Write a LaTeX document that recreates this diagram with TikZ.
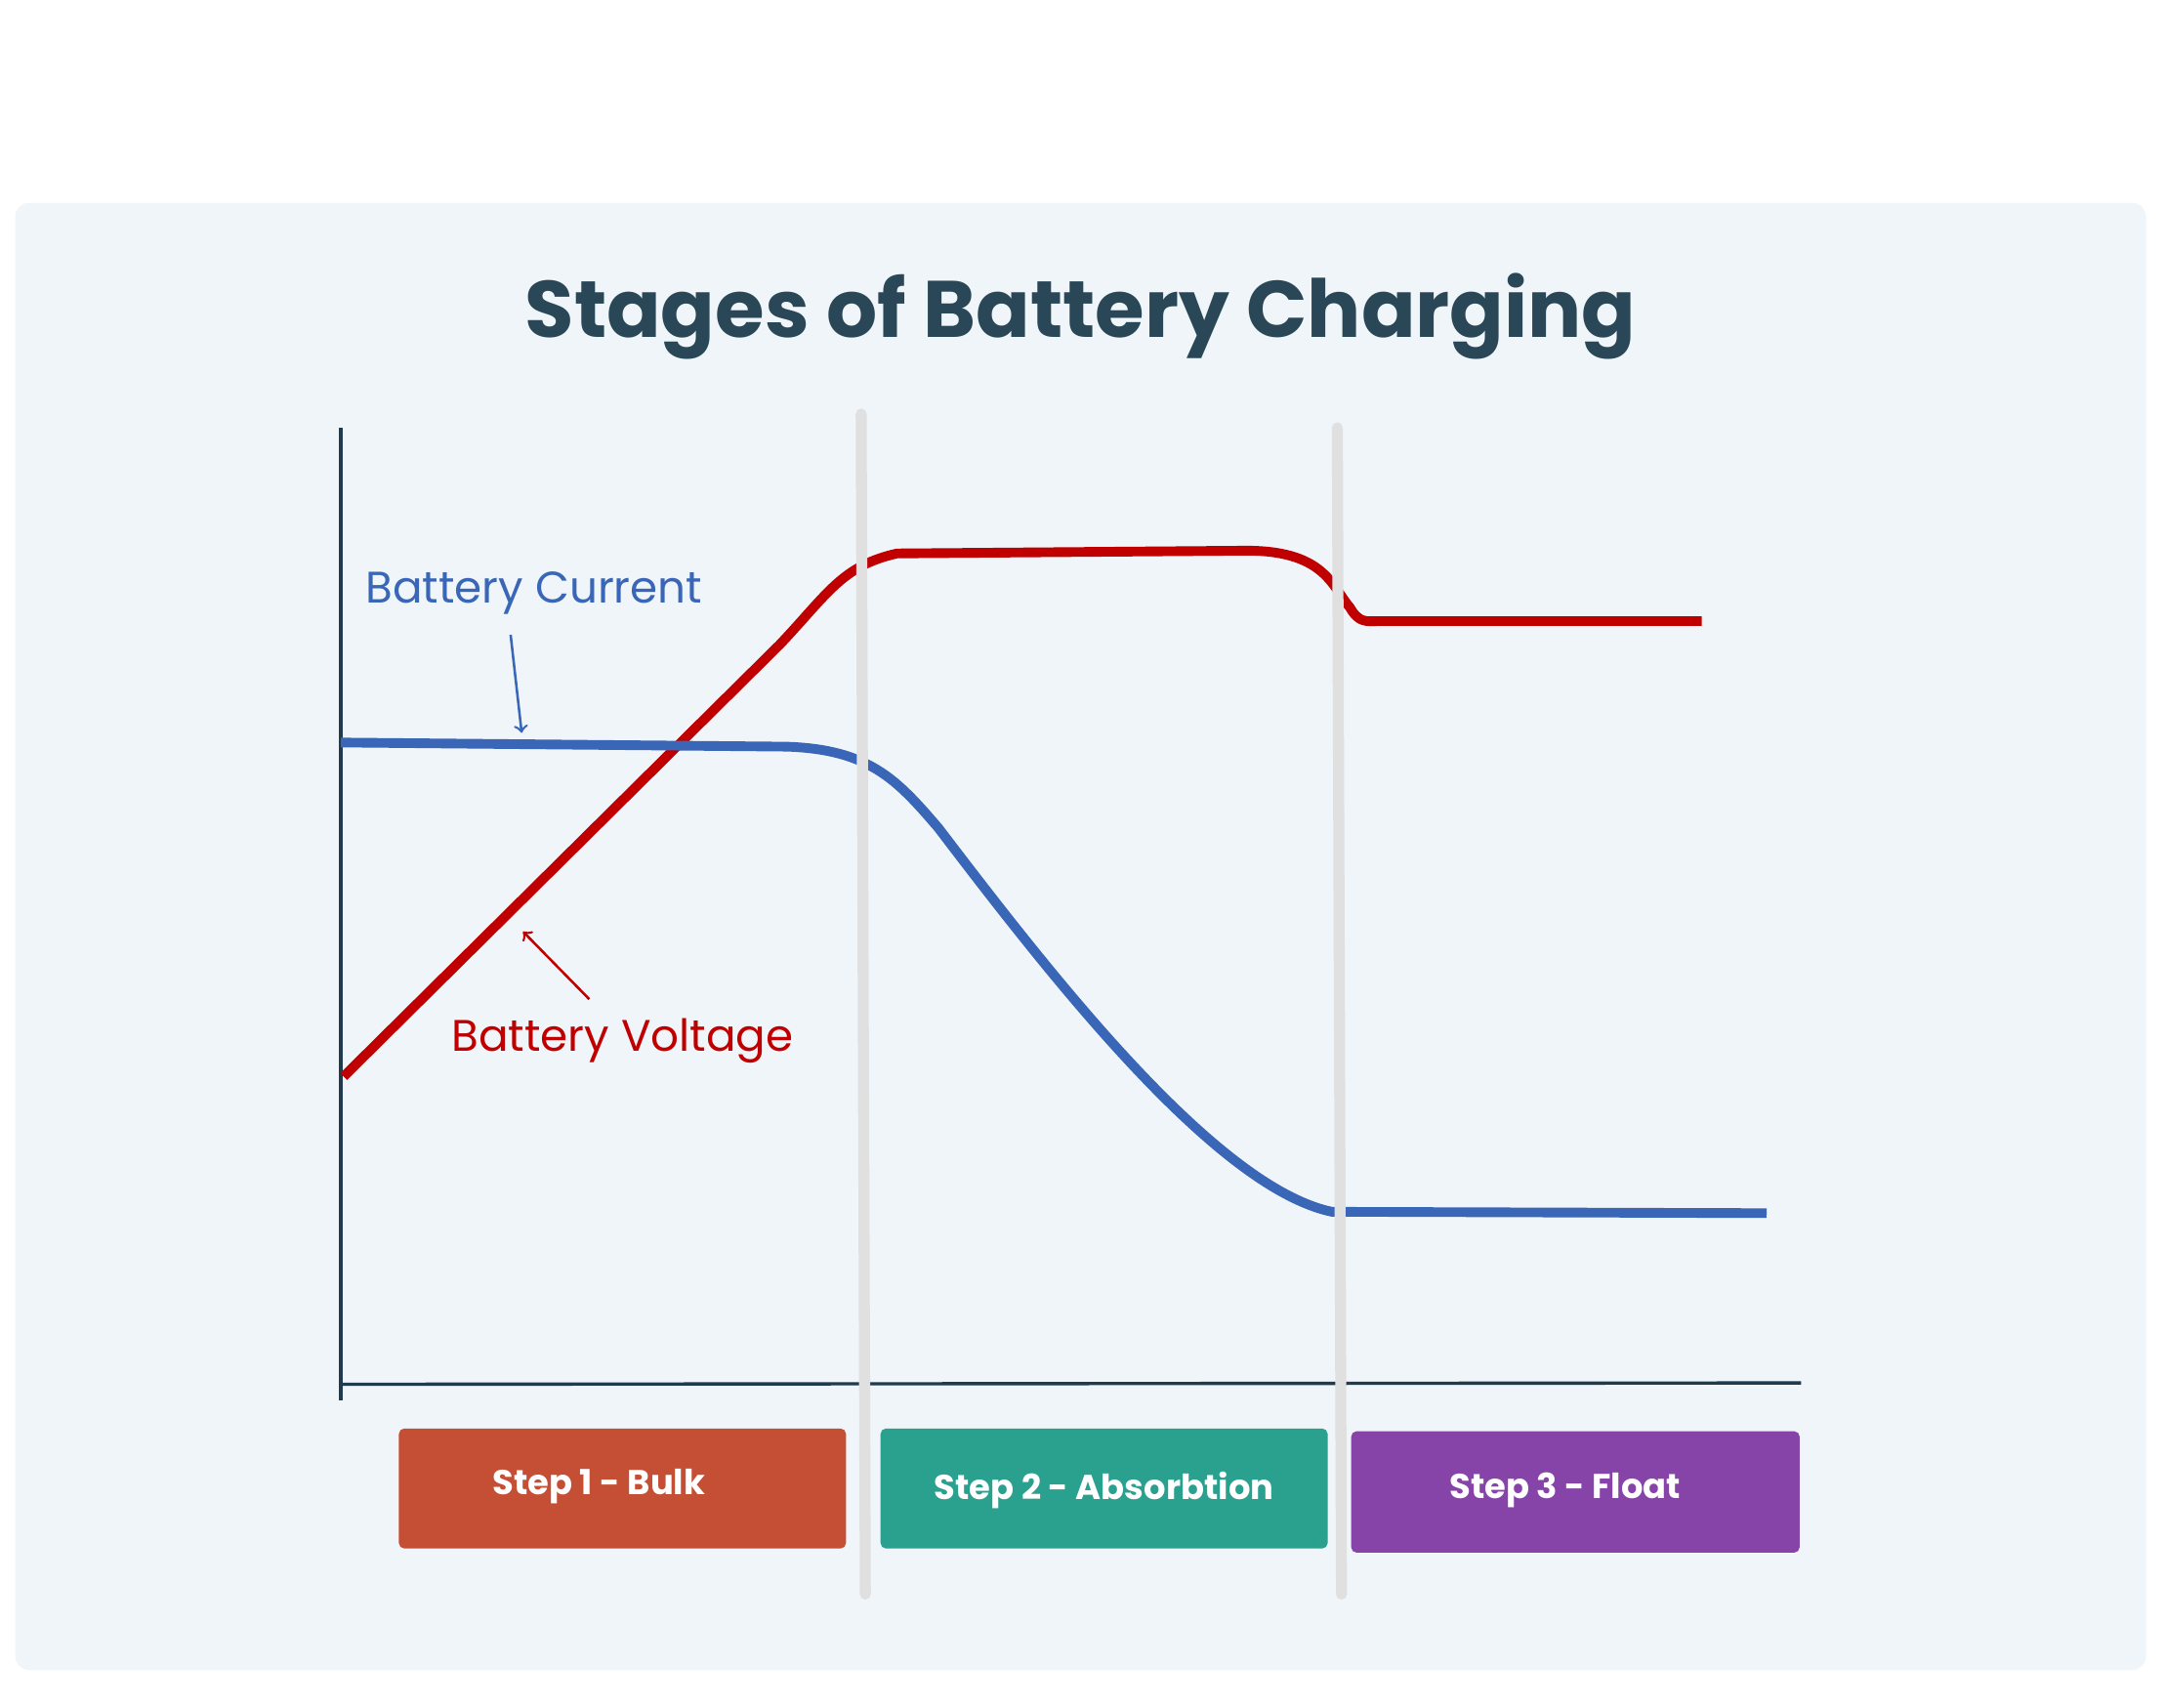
\documentclass[tikz,border=0pt]{standalone}
\usepackage{fontspec}
\setmainfont{Poppins}
\definecolor{bg}{HTML}{EFF5F8}
\definecolor{ttl}{HTML}{294756}
\definecolor{axis}{HTML}{1F3B4D}
\definecolor{vred}{HTML}{C00000}
\definecolor{cblue}{HTML}{3A66B8}
\definecolor{sep}{HTML}{E0E0E0}
\definecolor{bulk}{HTML}{C44F35}
\definecolor{absb}{HTML}{2AA08F}
\definecolor{flt}{HTML}{8643A8}
\tikzset{stepbox/.style={rounded corners=2pt,text=white,font=\bfseries\fontsize{12.5}{14}\selectfont}}
\begin{document}
\begin{tikzpicture}[x=0.5pt,y=-0.5pt]
\useasboundingbox (0,0) rectangle (1568,1237);
\fill[white] (0,0) rectangle (1568,1237);
\fill[bg,rounded corners=5pt] (11,147) rectangle (1555,1210);
\node[text=ttl,font=\fontsize{29}{34}\selectfont\bfseries] (title) at (783,229) {Stages of Battery Charging};
% axes
\draw[axis,line width=1.2pt] (247,310) -- (247,1015);
\draw[axis,line width=1.2pt] (247,1003) -- (1305,1002);
% stage boxes
\fill[bulk,rounded corners=2pt] (289,1035) rectangle (613,1122);
\fill[absb,rounded corners=2pt] (638,1035) rectangle (962,1122);
\fill[flt,rounded corners=2pt] (979,1037) rectangle (1304,1125);
\node[stepbox] (s1) at (434,1077) {Step 1 - Bulk};
\node[stepbox] (s2) at (800,1080) {Step 2 - Absorbtion};
\node[stepbox] (s3) at (1134,1080) {Step 3 - Float};
% voltage
\draw[vred,line width=3.5pt] (249,780) -- (565,467) .. controls (600,430) and (610,410) .. (650,401) -- (900,399) .. controls (960,398) and (965,425) .. (978,440) .. controls (985,452) and (990,450) .. (1000,450) -- (1233,450);
% current
\draw[cblue,line width=3.5pt] (247,538) -- (570,541) .. controls (630,543) and (650,565) .. (680,600) .. controls (760,705) and (880,860) .. (965,878) -- (1280,879);
% separators
\draw[sep,line width=4pt,line cap=round] (624,300) -- (627,1155);
\draw[sep,line width=4pt,line cap=round] (969,310) -- (972,1155);
% labels
\node[text=cblue,font=\fontsize{16}{19}\selectfont] (lc) at (387,430) {Battery Current};
\node[text=vred,font=\fontsize{16}{19}\selectfont] (lv) at (451,754) {Battery Voltage};
\coordinate (ca) at (378,531);
\coordinate (va) at (379,675);
\draw[cblue,line width=0.9pt,->] (370,460) -- (ca);
\draw[vred,line width=0.9pt,->] (427,724) -- (va);
\end{tikzpicture}
\end{document}
